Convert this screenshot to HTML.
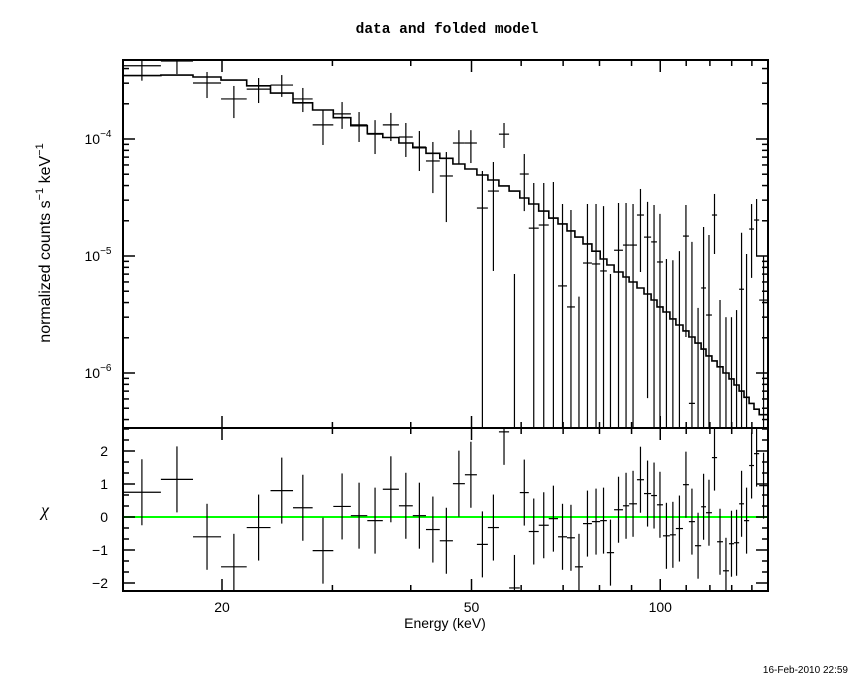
<!DOCTYPE html>
<html><head><meta charset="utf-8">
<style>
html,body{margin:0;padding:0;background:#fff;}
svg{display:block;}
text{font-family:"Liberation Sans",sans-serif;fill:#000;}
</style></head>
<body>
<svg id="chart" width="850" height="680" viewBox="0 0 850 680" xmlns="http://www.w3.org/2000/svg">
<text x="447" y="33" text-anchor="middle" style="font-family:'Liberation Mono',monospace;font-weight:bold;font-size:14.5px">data and folded model</text>
<text transform="translate(50,243) rotate(-90)" text-anchor="middle" font-size="16">normalized counts s<tspan dy="-7" font-size="11">−1</tspan><tspan dy="7"> keV</tspan><tspan dy="-7" font-size="11">−1</tspan></text>
<text x="45" y="516" text-anchor="middle" font-size="18" style="font-family:'Liberation Serif',serif;font-style:italic">χ</text>
<text x="445" y="628" text-anchor="middle" font-size="14">Energy (keV)</text>
<text x="848" y="673" text-anchor="end" font-size="10">16-Feb-2010 22:59</text>
<g id="topPanel"></g>
<g id="botPanel"></g>
</svg>
<script>
// bin edges (keV)
const binEdges = [13.9,15.98,17.98,19.93,21.9,23.9,25.96,27.9,30.1,32.1,34.1,36.1,38.3,40.3,42.3,44.5,46.7,48.8,51.0,53.1,55.3,57.4,59.7,61.7,64.0,66.4,68.7,71.0,73.1,75.3,77.8,80.2,82.2,84.4,87.2,89.2,91.8,94.2,96.7,98.8,101.0,103.6,105.9,108.7,111.1,113.6,116.2,118.3,120.9,123.2,125.9,128.7,131.1,133.6,136.0,138.6,141.1,143.8,148.5];
// data values in units of 1e-5 (0 = below plot)
const dataVals = [42.3,46.4,30.1,22.0,26.7,28.9,22.0,13.2,16.4,13.2,11.0,13.2,10.4,8.54,6.49,4.83,9.24,9.24,2.57,3.59,11.0,0,5.02,1.73,1.84,2.11,0.555,0.367,0,0.871,0.855,0.745,0,1.12,1.24,1.24,2.24,1.45,1.32,0.889,0,0,0,1.48,0.055,0,0.533,0.313,2.24,0,0,0,0,0.52,0,1.70,2.03,0.42];
const errLow = [31.5,35.9,22.4,15.1,20.3,22.9,17.0,8.89,12.2,9.43,7.44,9.61,7.02,5.33,3.45,1.95,6.11,6.23,0,0.745,8.38,0,2.42,0,0,0,0,0,0,0,0,0,0,0,0,0,0.730,0.061,0,0,0,0,0,0.203,0,0,0,0,1.04,0,0,0,0,0,0,0.65,1.0,0];
const errHigh = [48,60,37.4,28.4,33.2,35.2,27.3,17.7,20.7,17.0,14.5,16.7,13.7,11.7,9.43,7.74,11.9,11.9,5.33,6.36,13.7,0.702,7.44,4.21,4.21,4.29,2.78,2.47,0.449,2.78,2.78,2.67,0.702,2.84,2.84,2.78,3.74,2.90,2.73,2.29,0.942,0.92,1.10,2.73,1.32,0.36,1.77,1.51,3.39,0.421,0.30,0.30,0.345,1.58,1.04,2.78,3.07,1.0];
const modelVals = [34.8,35.2,33.9,31.9,28.5,24.7,20.4,17.7,15.2,13.0,11.1,10.3,9.24,8.43,7.55,6.84,6.11,5.54,4.92,4.46,3.97,3.59,3.13,2.78,2.42,2.11,1.88,1.64,1.45,1.27,1.10,0.942,0.838,0.730,0.662,0.600,0.533,0.473,0.421,0.367,0.332,0.290,0.257,0.229,0.203,0.180,0.160,0.140,0.127,0.113,0.100,0.089,0.079,0.070,0.062,0.055,0.049,0.044];
const chiVals = [0.75,1.14,-0.60,-1.51,-0.32,0.80,0.28,-1.02,0.32,0.04,-0.11,0.84,0.34,0.04,-0.38,-0.72,1.01,1.28,-0.83,-0.32,2.58,-2.15,0.74,-0.44,-0.25,-0.05,-0.60,-0.63,-1.51,-0.20,-0.14,-0.11,-1.08,0.22,0.34,0.40,1.13,0.71,0.65,0.37,-0.57,-0.54,-0.35,0.98,-0.14,-0.87,0.31,0.13,1.80,-0.75,-1.63,-0.81,-0.78,0.40,-0.11,1.56,1.92,0.95];
const xTickLabels = ["20","50","100"];
const yTickLabels = ["-4","-5","-6"];
const chiTickLabels = ["2","1","0","-1","-2"];

const L=123,R=768,T=60,B=428,B2=591;
const NS="http://www.w3.org/2000/svg";
const X=e=>222+627*Math.log10(e/20);
const Y=v=>139-117*Math.log10(v/10);      // v in 1e-5
const YC=c=>517-33*c;
const clampT=y=>Math.max(T,Math.min(B,y));
const clampB=y=>Math.max(B,Math.min(B2,y));
function mk(parent,tag,attrs){const el=document.createElementNS(NS,tag);for(const k in attrs)el.setAttribute(k,attrs[k]);parent.appendChild(el);return el;}
const topG=document.getElementById('topPanel'), botG=document.getElementById('botPanel');
const svgRoot=document.getElementById('chart');

// model step line
let d="";
modelVals.forEach((m,i)=>{const x0=X(binEdges[i]),x1=X(binEdges[i+1]),y=clampT(Y(m));d+=(i?"L":"M")+x0.toFixed(1)+","+y.toFixed(1)+"L"+x1.toFixed(1)+","+y.toFixed(1);});
const ml=mk(topG,'path',{d:d,fill:'none',stroke:'#000','stroke-width':1.6});



// data crosses
dataVals.forEach((v,i)=>{
  const x0=X(binEdges[i]),x1=X(binEdges[i+1]),xc=(x0+x1)/2;
  const g=mk(topG,'g',{stroke:'#000','stroke-width':1.2});
  
  
  const yh=clampT(Y(errHigh[i])), yl=errLow[i]>0?clampT(Y(errLow[i])):B;
  mk(g,'line',{x1:xc,x2:xc,y1:yh,y2:yl});
  if(v>0){const y=Y(v);if(y>=T&&y<=B)mk(g,'line',{x1:x0,x2:x1,y1:y,y2:y});}
});

// residuals
const zl=mk(botG,'line',{x1:L,x2:R,y1:YC(0),y2:YC(0),stroke:'#00ff00','stroke-width':2});


chiVals.forEach((c,i)=>{
  const x0=X(binEdges[i]),x1=X(binEdges[i+1]),xc=(x0+x1)/2;
  const g=mk(botG,'g',{stroke:'#000','stroke-width':1.2});
  
  
  mk(g,'line',{x1:xc,x2:xc,y1:clampB(YC(c+1)),y2:clampB(YC(c-1))});
  const y=YC(c); if(y>=B&&y<=B2) mk(g,'line',{x1:x0,x2:x1,y1:y,y2:y});
});

// frames
[[T,B],[B,B2]].forEach(([a,b],k)=>{const f=mk(k?botG:topG,'rect',{x:L,y:a,width:R-L,height:b-a,fill:'none',stroke:'#000','stroke-width':2});

});

// x ticks
const ax=mk(svgRoot,'g',{stroke:'#000','stroke-width':1.5});


for(let e=20;e<=140;e+=10){const x=X(e);const len=(e===20||e===50||e===100)?12:6;
 [[T,1],[B,-1],[B,1],[B2,-1]].forEach(([y,s])=>mk(ax,'line',{x1:x,x2:x,y1:y,y2:y+s*len}));}
[20,50,100].forEach((e,i)=>{const t=mk(svgRoot,'text',{x:X(e),y:612,'text-anchor':'middle','font-size':14});t.textContent=xTickLabels[i];

});
// y log ticks
for(let p=-7;p<=-3;p++)for(let m=1;m<=9;m++){const v=m*Math.pow(10,p)*1e5;const y=Y(v);if(y<T||y>B)continue;const len=m===1?12:6;
 mk(ax,'line',{x1:L,x2:L+len,y1:y,y2:y});mk(ax,'line',{x1:R,x2:R-len,y1:y,y2:y});}
[1,0.1,0.01].forEach((v,i)=>{const y=Y(v*10);const t=mk(svgRoot,'text',{x:98,y:y+5,'text-anchor':'middle','font-size':14});
t.appendChild(document.createTextNode('10'));
const sp=mk(t,'tspan',{dy:-7,'font-size':10});sp.textContent=yTickLabels[i].replace('-','−');

});
// chi ticks
for(let k=-6;k<=8;k++){const c=k/3;const y=YC(c);if(y<B||y>B2)continue;const len=(k%3===0)?12:6;
 mk(ax,'line',{x1:L,x2:L+len,y1:y,y2:y});mk(ax,'line',{x1:R,x2:R-len,y1:y,y2:y});}
[2,1,0,-1,-2].forEach((c,i)=>{const t=mk(svgRoot,'text',{x:108,y:YC(c)+5,'text-anchor':'end','font-size':14});t.textContent=chiTickLabels[i].replace('-','−');

});
</script>
</body></html>
